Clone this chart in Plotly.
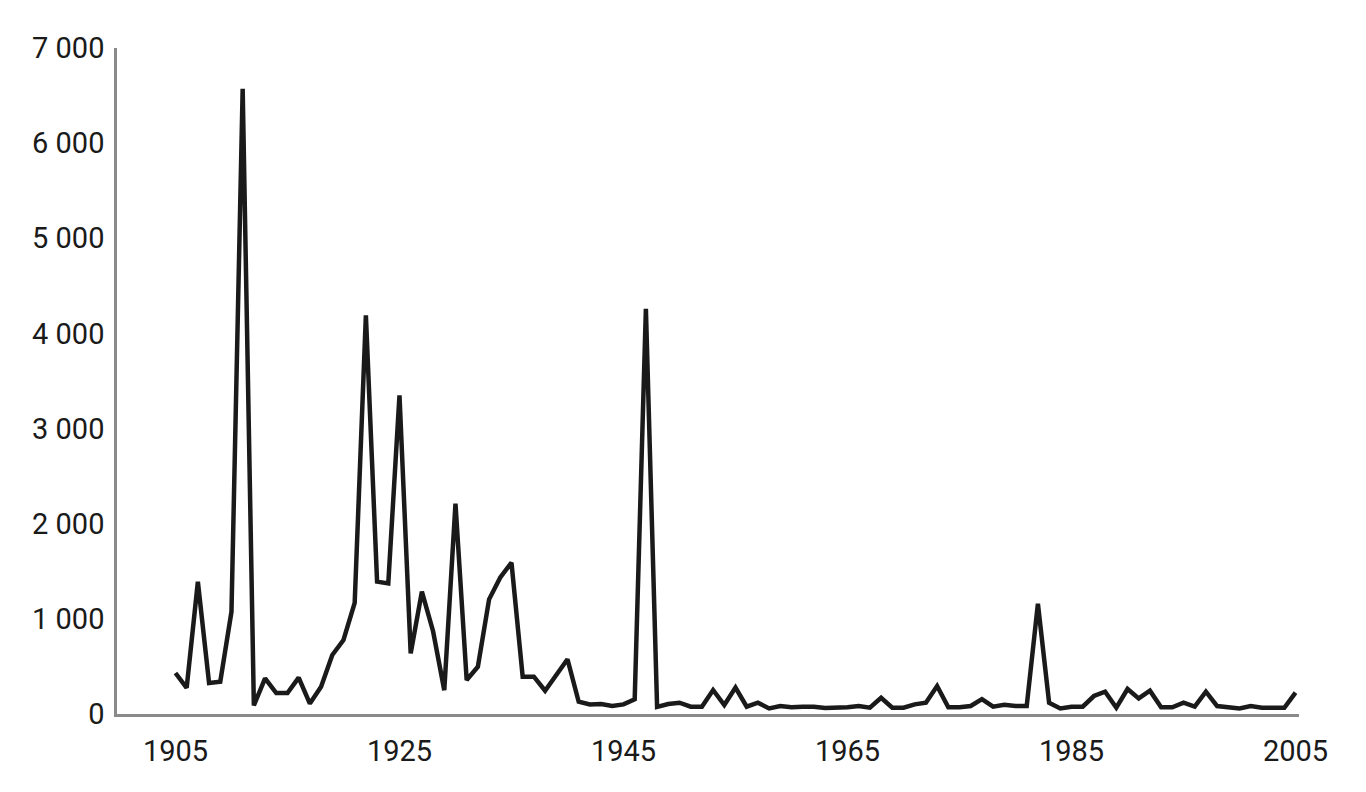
import plotly.graph_objects as go

years = list(range(1905, 2006))
values = [
    431, 275, 1390, 326, 340, 1075, 6570, 90, 375, 220,
    220, 382, 110, 287, 620, 778, 1167, 4190, 1391, 1373,
    3350, 638, 1286, 870, 250, 2210, 357, 497, 1205, 1436,
    1590, 392, 392, 245, 410, 575, 129, 101, 105, 84,
    101, 154, 4260, 75, 105, 119, 77, 77, 252, 94,
    277, 77, 119, 59, 84, 70, 77, 77, 63, 63,
    70, 84, 66, 171, 66, 66, 101, 119, 294, 70,
    70, 84, 157, 77, 98, 84, 84, 1160, 119, 59,
    77, 77, 189, 235, 66, 263, 164, 245, 70, 70,
    119, 77, 235, 84, 73, 59, 84, 66, 66, 66,
    224,
]
x_ticks = [1905, 1925, 1945, 1965, 1985, 2005]
y_ticks = [0, 1000, 2000, 3000, 4000, 5000, 6000, 7000]

fig = go.Figure()
fig.add_trace(go.Scatter(
    x=years, y=values, mode="lines",
    line=dict(color="#1a1a1a", width=4.5),
    hoverinfo="x+y", showlegend=False,
))

font = dict(family="Roboto, Liberation Sans, sans-serif", size=29, color="#1a1a1a")
fig.update_layout(
    width=1366, height=792,
    margin=dict(l=109, r=75, t=40, b=86),
    paper_bgcolor="white", plot_bgcolor="white",
    separators=". ",
    font=font,
    xaxis=dict(
        range=[1899.78, 2005.31], tickvals=x_ticks,
        showgrid=False, zeroline=False,
        showline=True, linecolor="#8a8a8a", linewidth=2.5,
        ticks="outside", ticklen=9, tickcolor="rgba(0,0,0,0)",
        tickfont=font,
    ),
    yaxis=dict(
        range=[0, 7000], tickvals=y_ticks, tickformat=",d",
        showgrid=False, zeroline=False,
        showline=True, linecolor="#8a8a8a", linewidth=2.5,
        ticks="outside", ticklen=4, tickcolor="rgba(0,0,0,0)",
        tickfont=font,
    ),
)
fig.write_html("out.html")
